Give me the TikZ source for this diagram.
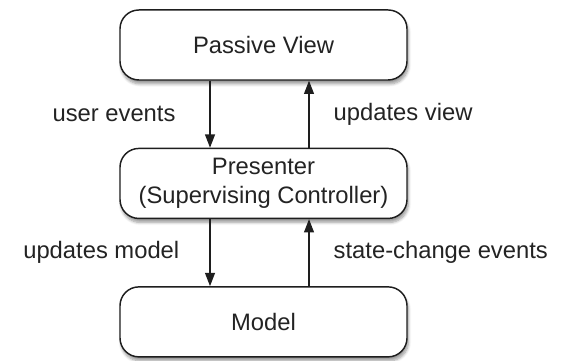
\documentclass[tikz,border=0pt]{standalone}
\usepackage{fontspec}
\setmainfont{Liberation Sans}
\usepackage{tikz}
\usetikzlibrary{arrows.meta, positioning, shadows.blur}
\definecolor{pvLine}{RGB}{30, 30, 30}
\definecolor{pvText}{RGB}{35, 35, 35}

\begin{document}
\begin{tikzpicture}[
        node distance=1.772cm,
        part/.style={rectangle, draw=pvLine, line width=1.1pt, fill=white, minimum width=7.593cm, minimum height=1.852cm, align=center, text=pvText, font=\fontsize{17.9}{21.8}\selectfont, rounded corners=0.5cm, blur shadow={shadow xshift=1pt, shadow yshift=-3pt, shadow opacity=40, shadow blur steps=6}},
        flow/.style={draw=pvLine, line width=0.9pt, -{Triangle[length=10pt, width=7.5pt]}},
        lbl/.style={text=pvText, font=\fontsize{17.9}{21.8}\selectfont}
    ]
        \useasboundingbox (0,0) rectangle (15,-9.524);
        % Main components
        \node[part] (view) at (6.971,-1.190) {Passive View};
        \node[part, below=of view] (pres) {Presenter\\(Supervising Controller)};
        \node[part, below=of pres] (model) {Model};

        % Arrows between components
        \draw[flow] ([xshift=-1.415cm]view.south) -- node[lbl, left=0.78cm] {user events} ([xshift=-1.415cm]pres.north);
        \draw[flow] ([xshift=1.204cm]pres.north) -- node[lbl, right=0.52cm] {updates view} ([xshift=1.204cm]view.south);
        \draw[flow] ([xshift=-1.415cm]pres.south) -- node[lbl, left=0.68cm] {updates model} ([xshift=-1.415cm]model.north);
        \draw[flow] ([xshift=1.204cm]model.north) -- node[lbl, right=0.52cm] {state-change events} ([xshift=1.204cm]pres.south);
    \end{tikzpicture}
\end{document}
